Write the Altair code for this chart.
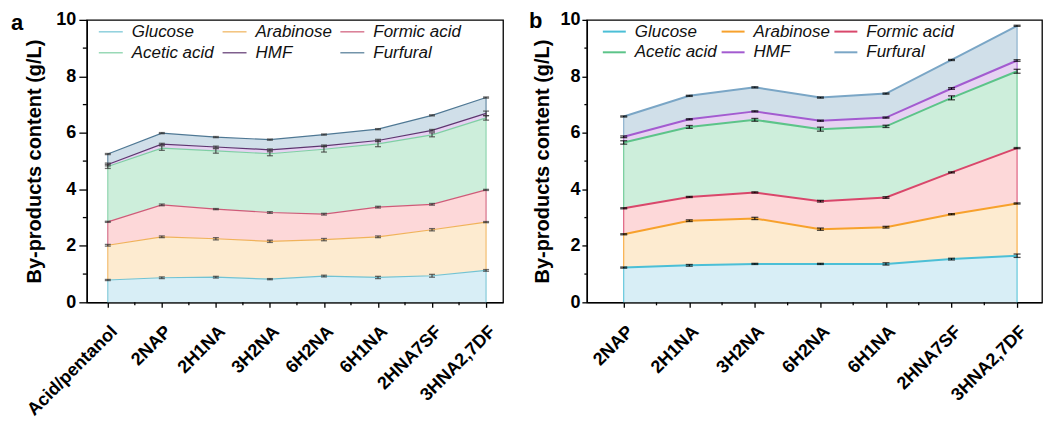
import json
import altair as alt
import pandas as pd

FONT = "Liberation Sans"

series = ["Glucose", "Arabinose", "Formic acid", "Acetic acid", "HMF", "Furfural"]

# ---- panel a ----
cats_a = ["Acid/pentanol", "2NAP", "2H1NA", "3H2NA", "6H2NA", "6H1NA", "2HNA7SF", "3HNA2,7DF"]
glucose_a = [0.79, 0.87, 0.89, 0.82, 0.93, 0.88, 0.94, 1.13]
arabinose_a = [1.23, 1.45, 1.36, 1.34, 1.29, 1.44, 1.63, 1.71]
formic_a = [0.83, 1.13, 1.05, 1.02, 0.90, 1.05, 0.90, 1.14]
acetic_a = [1.96, 2.01, 2.06, 2.08, 2.30, 2.24, 2.46, 2.55]
hmf_a = [0.07, 0.14, 0.14, 0.14, 0.12, 0.12, 0.16, 0.16]
furfural_a = [0.37, 0.39, 0.35, 0.36, 0.40, 0.40, 0.53, 0.56]
err_glucose_a = [0.02, 0.03, 0.03, 0.02, 0.03, 0.04, 0.05, 0.03]
err_arabinose_a = [0.03, 0.03, 0.04, 0.04, 0.04, 0.03, 0.04, 0.02]
err_formic_a = [0.02, 0.03, 0.02, 0.03, 0.03, 0.03, 0.03, 0.02]
err_acetic_a = [0.07, 0.08, 0.08, 0.07, 0.10, 0.10, 0.07, 0.08]
err_hmf_a = [0.05, 0.03, 0.03, 0.03, 0.03, 0.04, 0.03, 0.08]
err_furfural_a = [0.02, 0.02, 0.02, 0.02, 0.02, 0.02, 0.02, 0.02]

# ---- panel b ----
cats_b = ["2NAP", "2H1NA", "3H2NA", "6H2NA", "6H1NA", "2HNA7SF", "3HNA2,7DF"]
glucose_b = [1.23, 1.31, 1.36, 1.36, 1.36, 1.53, 1.65]
arabinose_b = [1.18, 1.58, 1.61, 1.23, 1.30, 1.59, 1.85]
formic_b = [0.92, 0.84, 0.92, 0.99, 1.05, 1.48, 1.96]
acetic_b = [2.33, 2.48, 2.57, 2.55, 2.52, 2.64, 2.72]
hmf_b = [0.20, 0.27, 0.30, 0.30, 0.31, 0.33, 0.38]
furfural_b = [0.72, 0.83, 0.85, 0.82, 0.85, 1.01, 1.23]
err_glucose_b = [0.02, 0.03, 0.02, 0.02, 0.04, 0.03, 0.06]
err_arabinose_b = [0.02, 0.03, 0.04, 0.04, 0.03, 0.02, 0.02]
err_formic_b = [0.02, 0.02, 0.02, 0.03, 0.03, 0.02, 0.02]
err_acetic_b = [0.06, 0.05, 0.05, 0.07, 0.04, 0.07, 0.07]
err_hmf_b = [0.03, 0.02, 0.02, 0.02, 0.02, 0.03, 0.03]
err_furfural_b = [0.02, 0.02, 0.02, 0.02, 0.02, 0.02, 0.02]

fills = ["#d8eef6", "#fdebd0", "#fdd8d9", "#cdeedb", "#e6d2f2", "#d0dfe9"]
strokes_a = ["#72c3d3", "#f0b25a", "#cf5a78", "#7fcfa4", "#5e3570", "#4f7894"]
strokes_b = ["#4bbfd6", "#f7a12c", "#d9476b", "#5cc489", "#a35bd0", "#7aa6c6"]

y_ticks = [0, 2, 4, 6, 8, 10]
y_minor = [1, 3, 5, 7, 9]
y_title = "By-products content (g/L)"


def panel(letter, cats, comps, errs, strokes, cfg):
    n = len(cats)
    rows = []
    for i in range(n):
        base = 0.0
        for s, name in enumerate(series):
            top = base + comps[s][i]
            rows.append(dict(idx=i, series=name, ord=s, y0=base, y1=top,
                             lo=top - errs[s][i], hi=top + errs[s][i]))
            base = top
    df = pd.DataFrame(rows)
    edges = df[(df["idx"] == 0) | (df["idx"] == n - 1)]
    W, H = cfg["w"], cfg["h"]

    xscale = alt.Scale(domain=cfg["xdom"], nice=False, zero=False)
    yscale = alt.Scale(domain=[0, 10], nice=False)
    xaxis = alt.Axis(values=list(range(n)), labelExpr=json.dumps(cats) + "[datum.value]",
                     labelAngle=-45, labelAlign="right", labelBaseline="top",
                     labelPadding=15, tickSize=5, labelFontSize=18, labelFontWeight="bold",
                     labelFont=FONT, labelColor="black", grid=False, domainColor="black",
                     domainWidth=1.3, tickColor="black", tickWidth=1.3, title=None,
                     labelOverlap=False, labelFlush=False, labelBound=False)
    yaxis = alt.Axis(values=y_ticks, tickSize=cfg["ytick"], labelPadding=cfg["ylabpad"],
                     labelFontSize=18, labelFontWeight="bold", labelFont=FONT,
                     labelColor="black", grid=False, domainColor="black", domainWidth=1.3,
                     tickColor="black", tickWidth=1.3, title=y_title, titleFont=FONT,
                     titleFontSize=20, titleFontWeight="bold", titleColor="black",
                     titlePadding=cfg["titlepad"], labelFlush=False)

    def X(f):
        return alt.X(f, type="quantitative", scale=xscale, axis=xaxis)

    def Y(f):
        return alt.Y(f, type="quantitative", scale=yscale, axis=yaxis)

    # fill scale listed in reverse so it is not merged with the stroke legend
    fill_scale = alt.Scale(domain=series[::-1], range=fills[::-1])
    stroke_scale = alt.Scale(domain=series, range=strokes)

    def legend():
        return alt.Legend(orient="none", legendX=cfg["lx"], legendY=cfg["ly"], columns=3,
                          direction="horizontal",
                          symbolType="stroke", symbolSize=cfg["sym"] ** 2,
                          symbolStrokeWidth=cfg["lw"], labelFont=FONT, labelFontStyle="italic",
                          labelFontSize=17, labelColor="#111", columnPadding=cfg["colpad"],
                          rowPadding=-2, labelOffset=cfg["laboff"], padding=0, title=None)

    base = alt.Chart(df)
    area = base.mark_area(opacity=1).encode(
        x=X("idx"), y=Y("y1"), y2="y0",
        fill=alt.Fill("series:N", scale=fill_scale, legend=None),
    )
    edge = alt.Chart(edges).mark_rule(strokeWidth=1).encode(
        x=X("idx"), y=Y("y0"), y2="y1",
        stroke=alt.Stroke("series:N", scale=stroke_scale, legend=legend()),
    )
    line = base.mark_line(strokeWidth=cfg["lw"]).encode(
        x=X("idx"), y=Y("y1"),
        stroke=alt.Stroke("series:N", scale=stroke_scale, legend=legend()),
    )
    erule = base.mark_rule(color=cfg["ecol"], strokeWidth=1).encode(x=X("idx"), y=Y("lo"), y2="hi")
    cap_lo = base.mark_tick(orient="horizontal", color=cfg["ecol"], size=cfg["cap"],
                            thickness=1.3).encode(x=X("idx"), y=Y("lo"))
    cap_hi = base.mark_tick(orient="horizontal", color=cfg["ecol"], size=cfg["cap"],
                            thickness=1.3).encode(x=X("idx"), y=Y("hi"))

    ymin = alt.Chart(pd.DataFrame({"y1": y_minor})).mark_rule(
        color="black", strokeWidth=1.3).encode(
        y=Y("y1"), x=alt.value(-cfg["ytick"] / 2), x2=alt.value(0))
    xmin = alt.Chart(pd.DataFrame({"idx": [i + 0.5 for i in range(n - 1)]})).mark_rule(
        color="black", strokeWidth=1.3).encode(
        x=X("idx"), y=alt.value(H), y2=alt.value(H + 3))

    lab = alt.Chart(pd.DataFrame({"t": [letter]})).mark_text(
        align="left", baseline="alphabetic", fontSize=22, fontWeight="bold",
        font=FONT, color="black").encode(
        text="t:N", x=alt.value(cfg["letx"]), y=alt.value(cfg["lety"]))

    return alt.layer(area, edge, line, erule, cap_lo, cap_hi, ymin, xmin, lab).properties(
        width=W, height=H)


cfg_a = dict(w=417, h=283, xdom=[-0.388, 7.314], ytick=8, ylabpad=3, titlepad=11,
             lx=11, ly=-1, sym=24, lw=1.2, colpad=5, laboff=8, ecol="#333333", cap=6,
             letx=-76, lety=10)
cfg_b = dict(w=456, h=283, xdom=[-0.562, 6.38], ytick=5, ylabpad=2, titlepad=7,
             lx=15, ly=-1, sym=23, lw=2, colpad=0, laboff=8, ecol="black", cap=7,
             letx=-58, lety=8)

pa = panel("a", cats_a,
           [glucose_a, arabinose_a, formic_a, acetic_a, hmf_a, furfural_a],
           [err_glucose_a, err_arabinose_a, err_formic_a, err_acetic_a, err_hmf_a, err_furfural_a],
           strokes_a, cfg_a)
pb = panel("b", cats_b,
           [glucose_b, arabinose_b, formic_b, acetic_b, hmf_b, furfural_b],
           [err_glucose_b, err_arabinose_b, err_formic_b, err_acetic_b, err_hmf_b, err_furfural_b],
           strokes_b, cfg_b)

chart = alt.hconcat(pa, pb, spacing=24).resolve_scale(
    x="independent", y="independent", fill="independent", stroke="independent"
).resolve_legend(stroke="independent", fill="independent").properties(
    padding={"left": 10, "top": 8.5, "right": 1, "bottom": 2}
).configure(font=FONT).configure_view(stroke="black", strokeWidth=1.3)

chart.save("out.html", embed_options={"renderer": "svg", "actions": False})
